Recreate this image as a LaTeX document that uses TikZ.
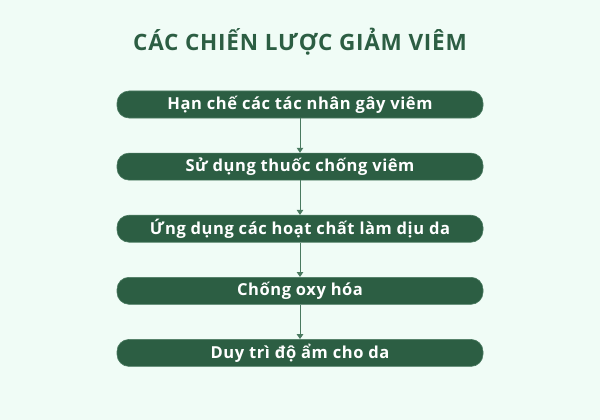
\documentclass[tikz,border=0pt]{standalone}
\usepackage{fontspec}
\setmainfont{Open Sans}[LetterSpace=3.5]
\usetikzlibrary{positioning}
\usetikzlibrary{arrows.meta}
\definecolor{leafgreen}{HTML}{2C5E43}
\definecolor{stemgreen}{HTML}{4A7A60}
\definecolor{mintbg}{HTML}{F0FCF6}
\tikzset{
	stepbox/.style={
		rectangle,
		rounded corners=12pt,
		fill=leafgreen,
		draw=stemgreen,
		line width=0.6pt,
		minimum width=366pt,
		minimum height=27pt,
		inner sep=0pt,
		text=white,
		font=\bfseries\fontsize{16.5}{19}\selectfont
	},
	stepline/.style={
		draw=stemgreen,
		line width=1pt,
		-{Triangle[length=5pt,width=6.5pt]}
	},
	flow/.style={
		x=1pt, y=-1pt,
		node distance=34.5pt
	}
}

\begin{document}
\begin{tikzpicture} [flow]
	\fill[mintbg] (0,0) rectangle (600,420);
	\useasboundingbox (0,0) rectangle (600,420);

	\node (title) at (300,42) [text=leafgreen, font=\bfseries\fontsize{22.5}{26}\selectfont] {CÁC CHIẾN LƯỢC GIẢM VIÊM};

	\node (limit) at (300,104.5) [stepbox] {Hạn chế các tác nhân gây viêm};
	\node (drug) [stepbox, below=of limit] {Sử dụng thuốc chống viêm};
	\node (soothe) [stepbox, below=of drug] {Ứng dụng các hoạt chất làm dịu da};
	\node (antiox) [stepbox, below=of soothe] {Chống oxy hóa};
	\node (moist) [stepbox, below=of antiox] {Duy trì độ ẩm cho da};

	\foreach \a/\b in {limit/drug, drug/soothe, soothe/antiox, antiox/moist}
		\draw [stepline] (\a) -- (\b);
\end{tikzpicture}
\end{document}
